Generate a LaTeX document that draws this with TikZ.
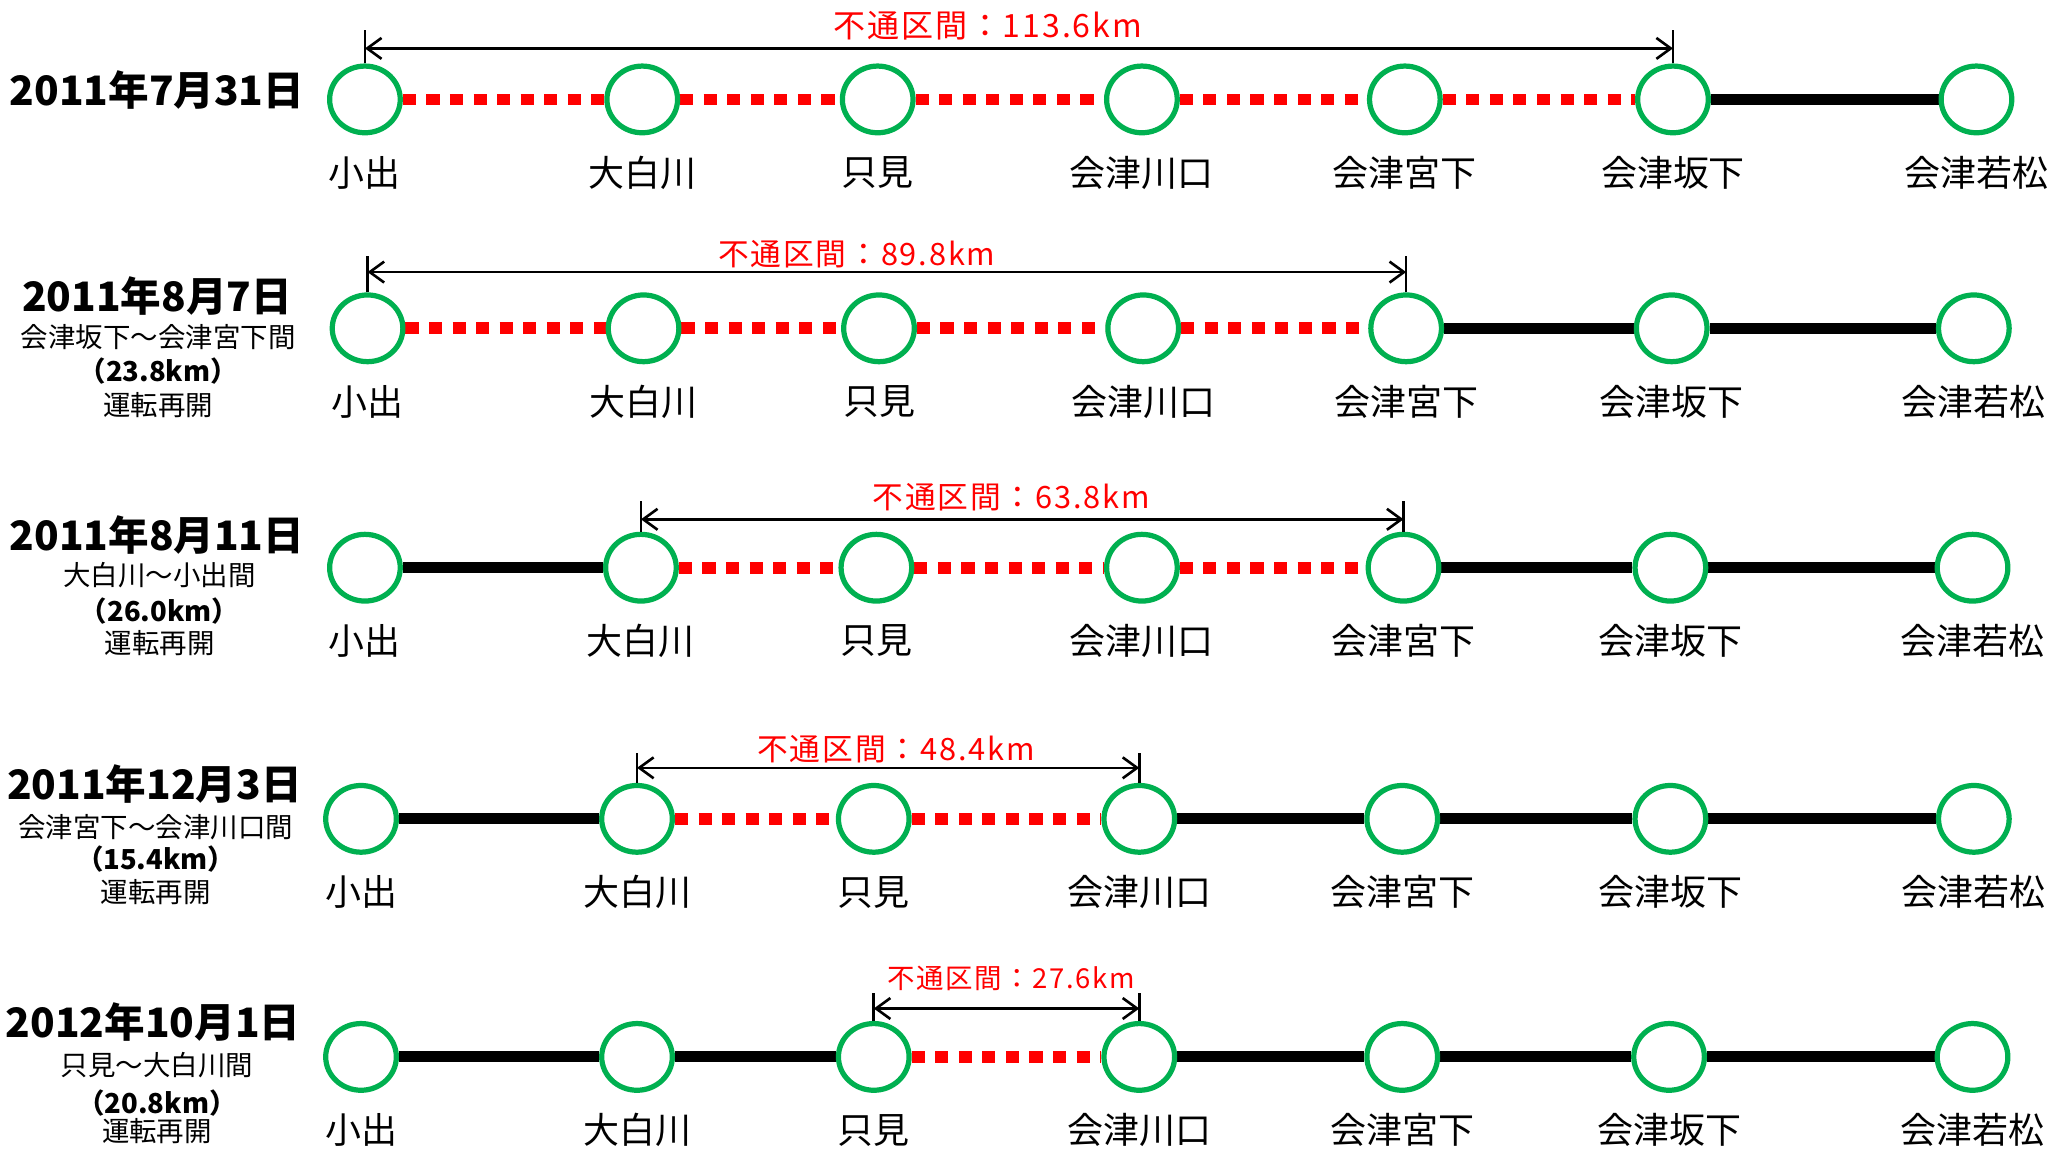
\documentclass[tikz,border=0pt]{standalone}
\usepackage{fontspec}
\setmainfont{Noto Sans CJK JP}
\newfontfamily\kmfont[LetterSpace=6]{Noto Sans CJK JP}
\usetikzlibrary{shapes.geometric,arrows.meta,calc,backgrounds}
\definecolor{sgreen}{HTML}{00B050}
\definecolor{sred}{HTML}{FF0000}
\newcommand{\mkrow}[3]{%
  \foreach \xx [count=\i] in {#3} {\node[stn] (s#1-\i) at (\xx,#2) {};}
  \foreach \nm [count=\i] in {小出,大白川,只見,会津川口,会津宮下,会津坂下,会津若松}
    {\node[lab] (l#1-\i) at ($(s#1-\i)+(0,56)$) {\nm};}
}
\newcommand{\seg}[4]{\draw[#1] (s#2-#3) -- (s#2-#4);}
\begin{document}
\begin{tikzpicture}[x=1pt,y=-1pt,
  stn/.style={ellipse,draw=sgreen,line width=4pt,fill=white,minimum width=54pt,minimum height=51pt,inner sep=0pt},
  lab/.style={font=\fontsize{27.5}{30}\selectfont,inner sep=0pt},
  ok/.style={line width=8.5pt,black},
  ng/.style={line width=9pt,sred,dash pattern=on 10pt off 8pt},
  dim/.style={line width=2pt,{Straight Barb[length=11pt,width=16pt]}-{Straight Barb[length=11pt,width=16pt]}},
  tick/.style={line width=2pt},
  km/.style={text=sred,inner sep=0pt},
  date/.style={font=\fontsize{31}{34}\selectfont\bfseries,inner sep=0pt},
  sub/.style={font=\fontsize{21}{24}\selectfont,inner sep=0pt},
  subb/.style={font=\fontsize{21}{24}\selectfont\bfseries,inner sep=0pt}]
\useasboundingbox (0,0) rectangle (1568,884);

% ---------- stations ----------
\mkrow{1}{76}{279,491,671,873,1074,1279,1511}
\mkrow{2}{251}{281,492,672,874,1075,1278,1509}
\mkrow{3}{434}{279,490,670,873,1073,1277,1508}
\mkrow{4}{626}{276,487,668,871,1072,1277,1509}
\mkrow{5}{808}{276,487,668,871,1072,1276,1508}

% ---------- line segments ----------
\begin{pgfonlayer}{background}
\seg{ng}{1}{1}{2}\seg{ng}{1}{2}{3}\seg{ng}{1}{3}{4}\seg{ng}{1}{4}{5}\seg{ng}{1}{5}{6}\seg{ok}{1}{6}{7}
\seg{ng}{2}{1}{2}\seg{ng}{2}{2}{3}\seg{ng}{2}{3}{4}\seg{ng}{2}{4}{5}\seg{ok}{2}{5}{6}\seg{ok}{2}{6}{7}
\seg{ok}{3}{1}{2}\seg{ng}{3}{2}{3}\seg{ng}{3}{3}{4}\seg{ng}{3}{4}{5}\seg{ok}{3}{5}{6}\seg{ok}{3}{6}{7}
\seg{ok}{4}{1}{2}\seg{ng}{4}{2}{3}\seg{ng}{4}{3}{4}\seg{ok}{4}{4}{5}\seg{ok}{4}{5}{6}\seg{ok}{4}{6}{7}
\seg{ok}{5}{1}{2}\seg{ok}{5}{2}{3}\seg{ng}{5}{3}{4}\seg{ok}{5}{4}{5}\seg{ok}{5}{5}{6}\seg{ok}{5}{6}{7}
\end{pgfonlayer}

% ---------- dimension arrows ----------
\coordinate (a1) at (0,37);  \coordinate (t1) at (0,23);
\coordinate (a2) at (0,208); \coordinate (t2) at (0,196);
\coordinate (a3) at (0,397); \coordinate (t3) at (0,383);
\coordinate (a4) at (0,587); \coordinate (t4) at (0,576);
\coordinate (a5) at (0,771); \coordinate (t5) at (0,759);

\draw[tick] (s1-1.north) -- (s1-1.north |- t1);
\draw[tick] (s1-6.north) -- (s1-6.north |- t1);
\draw[dim] (s1-1.north |- a1) -- (s1-6.north |- a1);

\draw[tick] (s2-1.north) -- (s2-1.north |- t2);
\draw[tick] (s2-5.north) -- (s2-5.north |- t2);
\draw[dim] (s2-1.north |- a2) -- (s2-5.north |- a2);

\draw[tick] (s3-2.north) -- (s3-2.north |- t3);
\draw[tick] (s3-5.north) -- (s3-5.north |- t3);
\draw[dim] (s3-2.north |- a3) -- (s3-5.north |- a3);

\draw[tick] (s4-2.north) -- (s4-2.north |- t4);
\draw[tick] (s4-4.north) -- (s4-4.north |- t4);
\draw[dim] (s4-2.north |- a4) -- (s4-4.north |- a4);

\draw[tick] (s5-3.north) -- (s5-3.north |- t5);
\draw[tick] (s5-4.north) -- (s5-4.north |- t5);
\draw[dim] (s5-3.north |- a5) -- (s5-4.north |- a5);

% ---------- closed-section labels ----------
\node[km,font=\kmfont\fontsize{24.5}{27}\selectfont] (k1) at (755,20) {不通区間：113.6km};
\node[km,font=\kmfont\fontsize{23.5}{26}\selectfont] (k2) at (655,194) {不通区間：89.8km};
\node[km,font=\kmfont\fontsize{23.5}{26}\selectfont] (k3) at (773,380) {不通区間：63.8km};
\node[km,font=\kmfont\fontsize{23.5}{26}\selectfont] (k4) at (685,573) {不通区間：48.4km};
\node[km,font=\kmfont\fontsize{21}{24}\selectfont] (k5) at (773,748) {不通区間：27.6km};

% ---------- dates ----------
\node[date] (d1) at (120,69) {2011年7月31日};

\node[date] (d2) at (120,226) {2011年8月7日};
\node[sub]  (d2a) at (121,258) {会津坂下～会津宮下間};
\node[subb] (d2b) at (121,284) {（23.8km）};
\node[sub]  (d2c) at (121,310) {運転再開};

\node[date] (d3) at (120,409) {2011年8月11日};
\node[sub]  (d3a) at (122,440) {大白川～小出間};
\node[subb] (d3b) at (122,467) {（26.0km）};
\node[sub]  (d3c) at (122,492) {運転再開};

\node[date] (d4) at (118,599) {2011年12月3日};
\node[sub]  (d4a) at (119,632) {会津宮下～会津川口間};
\node[subb] (d4b) at (119,657) {（15.4km）};
\node[sub]  (d4c) at (119,682) {運転再開};

\node[date] (d5) at (117,781) {2012年10月1日};
\node[sub]  (d5a) at (120,814) {只見～大白川間};
\node[subb] (d5b) at (120,843) {（20.8km）};
\node[sub]  (d5c) at (120,865) {運転再開};
\end{tikzpicture}
\end{document}
